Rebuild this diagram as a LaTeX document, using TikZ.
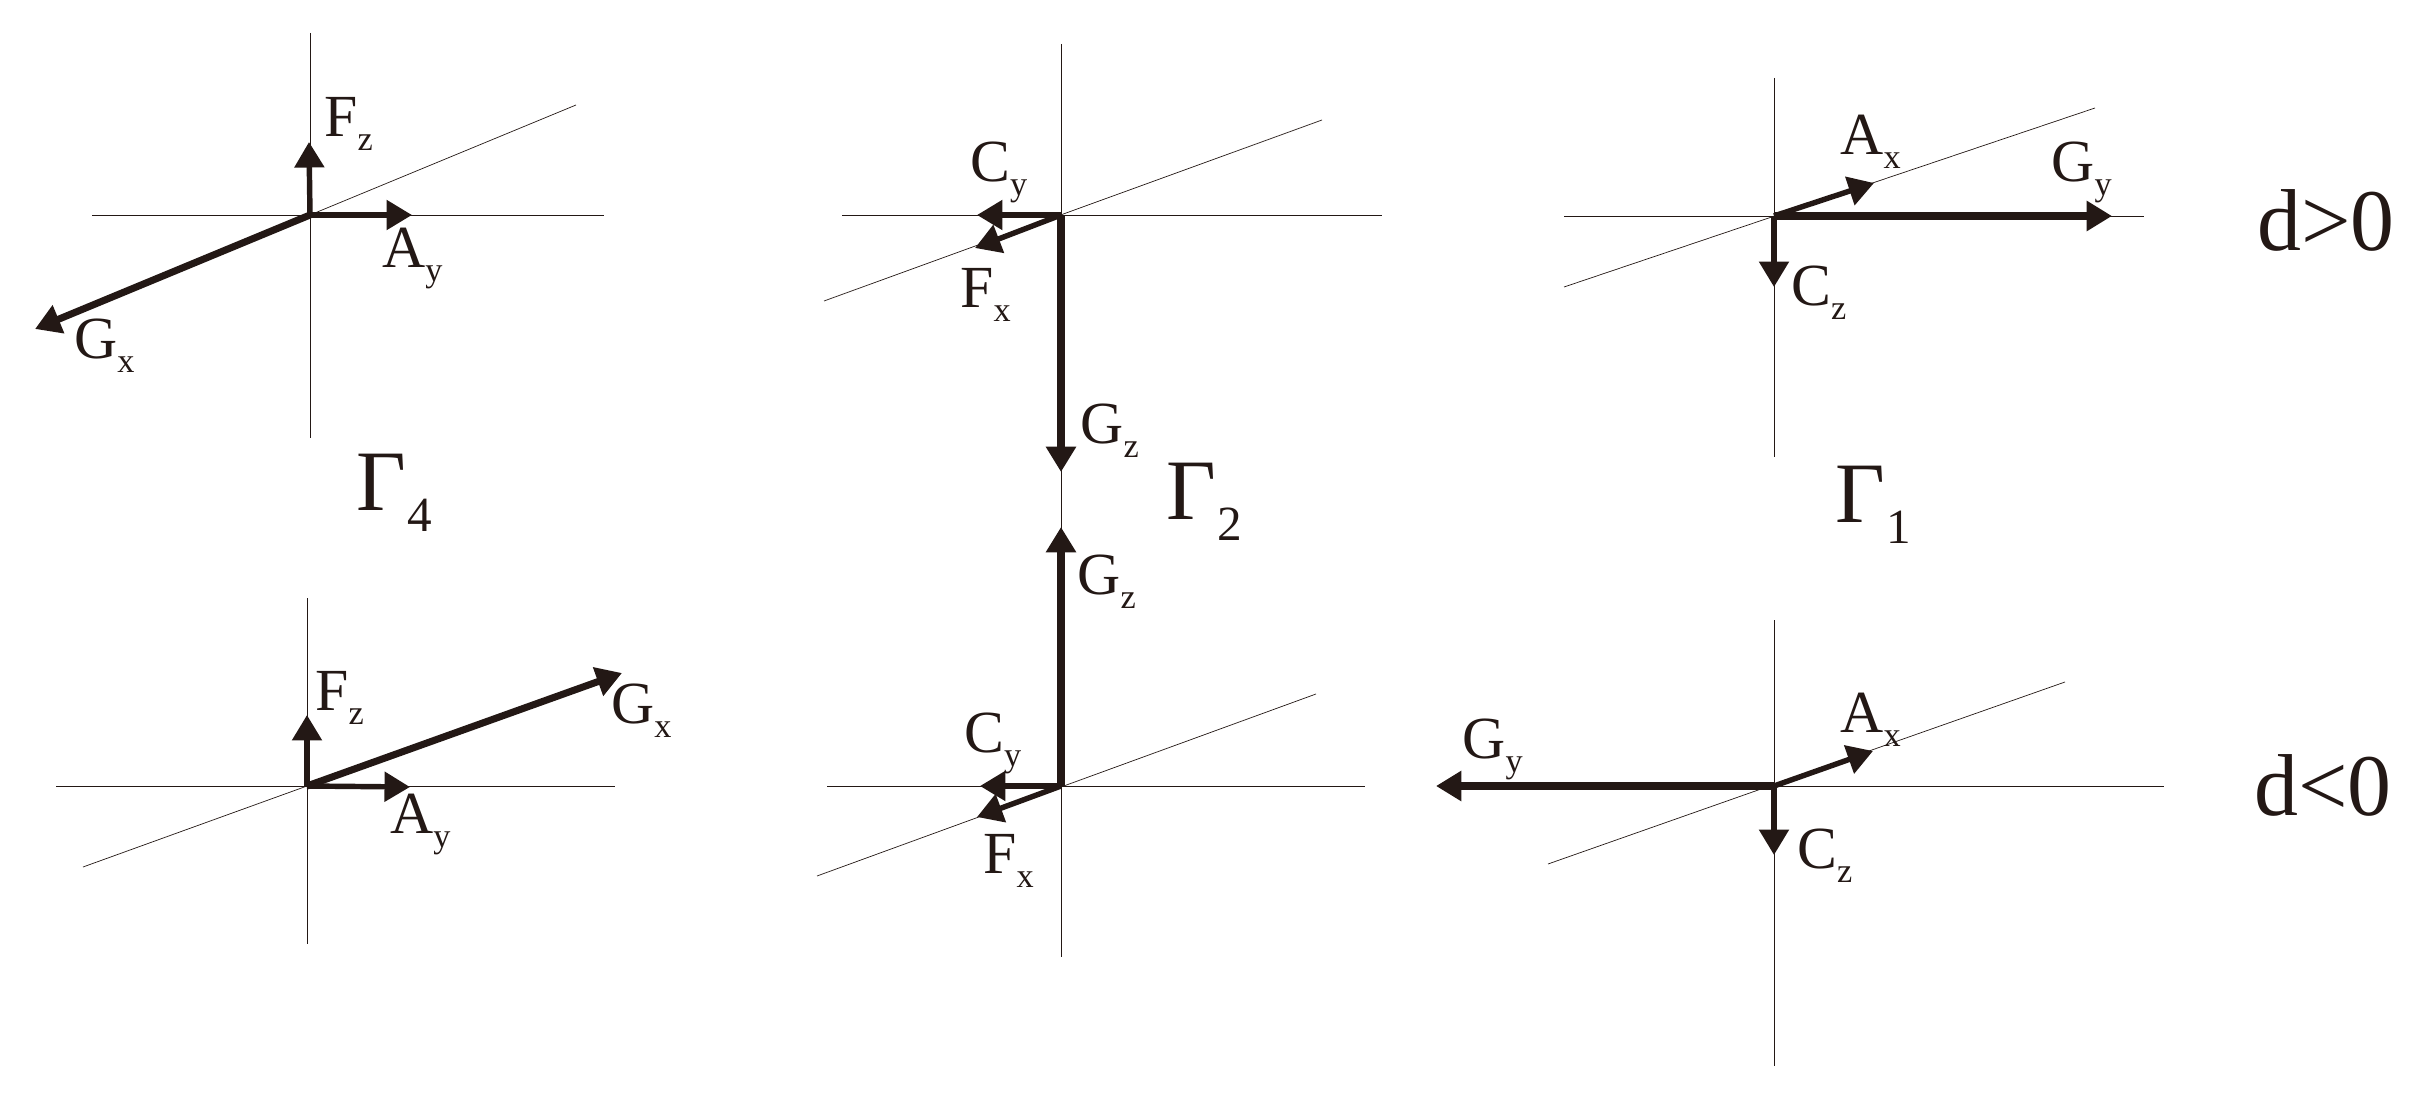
\documentclass[tikz,border=0pt]{standalone}
\usepackage{fontspec}
\setmainfont{Liberation Serif}
\usetikzlibrary{arrows.meta}
\definecolor{inkblack}{HTML}{231815}
\newcommand{\vlab}[2]{\fontsize{34}{34}\selectfont #1\raisebox{-8.5pt}{\fontsize{19.5}{19}\selectfont #2}}
\newcommand{\glab}[1]{\fontsize{49}{49}\selectfont Γ\kern1pt\raisebox{-12pt}{\fontsize{28}{28}\selectfont #1}}
\begin{document}
\begin{tikzpicture}[x=0.02cm,y=-0.02cm]\tikzstyle{every node} = [inner sep=0pt,anchor=base west,text=inkblack]
      \tikzstyle{axisline} = [draw=inkblack,line width=0.5pt]
      \tikzstyle{slantline} = [draw=inkblack,line width=0.4pt]
      \tikzstyle{vec} = [draw=inkblack,line width=3.1pt,-{Triangle[length=14.5pt,width=16.5pt]},fill=inkblack]
      \tikzstyle{longvec} = [vec,line width=4pt]
      \tikzstyle{biglab} = [font=\fontsize{50}{50}\selectfont]
      \useasboundingbox (0,0) rectangle (2415,1095);

      \coordinate (o4t) at (310,215);
      \coordinate (o4tW) at (92,215);
      \coordinate (o4tE) at (604,215);
      \coordinate (o4tN) at (310,33);
      \coordinate (o4tS) at (310,438);
      \coordinate (o4tR) at (576,105);
      \coordinate (Fz4tip) at (309,142);
      \coordinate (Ay4tip) at (412,215);
      \coordinate (Gx4tip) at (35,329);
      \draw[axisline] (o4tW) -- (o4tE);
      \draw[axisline] (o4tN) -- (o4tS);
      \draw[slantline] (o4t) -- (o4tR);
      \draw[vec] (o4t) -- (Fz4tip);
      \draw[vec] (o4t) -- (Ay4tip);
      \draw[longvec] (o4t) -- (Gx4tip);
      \node (Fz4t) at (324,136) {\vlab{F}{z}};
      \node (Ay4t) at (382,267) {\vlab{A}{y}};
      \node (Gx4t) at (74,358) {\vlab{G}{x}};
      \node (gam4) at (356,510) {\glab{4}};

      \coordinate (o2t) at (1061,215);
      \coordinate (o2tW) at (842,215);
      \coordinate (o2tE) at (1382,215);
      \coordinate (o2tN) at (1061,44);
      \coordinate (o2tS) at (1061,527);
      \coordinate (o2tL) at (824,301);
      \coordinate (o2tR) at (1322,120);
      \coordinate (Cy2tip) at (977,215);
      \coordinate (Fx2tip) at (975,248);
      \coordinate (Gz2tip) at (1061,472);
      \draw[axisline] (o2tW) -- (o2tE);
      \draw[axisline] (o2tN) -- (o2tS);
      \draw[slantline] (o2tL) -- (o2tR);
      \draw[vec] (o2t) -- (Cy2tip);
      \draw[vec] (o2t) -- (Fx2tip);
      \draw[longvec] (o2t) -- (Gz2tip);
      \node (Cy2t) at (970,181) {\vlab{C}{y}};
      \node (Fx2t) at (960,307) {\vlab{F}{x}};
      \node (Gz2t) at (1080,443) {\vlab{G}{z}};
      \node (gam2) at (1166,519) {\glab{2}};

      \coordinate (o1t) at (1774,216);
      \coordinate (o1tW) at (1564,216);
      \coordinate (o1tE) at (2144,216);
      \coordinate (o1tN) at (1774,78);
      \coordinate (o1tS) at (1774,457);
      \coordinate (o1tL) at (1564,287);
      \coordinate (o1tR) at (2095,108);
      \coordinate (Ax1tip) at (1874,183);
      \coordinate (Gy1tip) at (2112,216);
      \coordinate (Cz1tip) at (1774,287);
      \draw[axisline] (o1tW) -- (o1tE);
      \draw[axisline] (o1tN) -- (o1tS);
      \draw[slantline] (o1tL) -- (o1tR);
      \draw[vec] (o1t) -- (Ax1tip);
      \draw[longvec] (o1t) -- (Gy1tip);
      \draw[vec] (o1t) -- (Cz1tip);
      \node (Ax1t) at (1840,154) {\vlab{A}{x}};
      \node (Gy1t) at (2051,181) {\vlab{G}{y}};
      \node (Cz1t) at (1791,305) {\vlab{C}{z}};
      \node (gam1) at (1835,522) {\glab{1}};
      \node[biglab] (dpos) at (2257,250) {d>0};

      \coordinate (o4b) at (307,786);
      \coordinate (o4bW) at (56,786);
      \coordinate (o4bE) at (615,786);
      \coordinate (o4bN) at (307,598);
      \coordinate (o4bS) at (307,944);
      \coordinate (o4bL) at (83,867);
      \coordinate (Fz4btip) at (307,715);
      \coordinate (Ay4btip) at (410,787);
      \coordinate (Gx4btip) at (622,673);
      \draw[axisline] (o4bW) -- (o4bE);
      \draw[axisline] (o4bN) -- (o4bS);
      \draw[slantline] (o4b) -- (o4bL);
      \draw[vec] (o4b) -- (Fz4btip);
      \draw[vec] (o4b) -- (Ay4btip);
      \draw[longvec] (o4b) -- (Gx4btip);
      \node (Fz4b) at (315,710) {\vlab{F}{z}};
      \node (Ay4b) at (390,833) {\vlab{A}{y}};
      \node (Gx4b) at (611,723) {\vlab{G}{x}};

      \coordinate (o2b) at (1061,786);
      \coordinate (o2bW) at (827,786);
      \coordinate (o2bE) at (1365,786);
      \coordinate (o2bN) at (1061,472);
      \coordinate (o2bS) at (1061,957);
      \coordinate (o2bL) at (817,876);
      \coordinate (o2bR) at (1316,694);
      \coordinate (Cy2btip) at (980,786);
      \coordinate (Fx2btip) at (977,817);
      \coordinate (Gz2btip) at (1061,527);
      \draw[axisline] (o2bW) -- (o2bE);
      \draw[axisline] (o2bN) -- (o2bS);
      \draw[slantline] (o2bL) -- (o2bR);
      \draw[vec] (o2b) -- (Cy2btip);
      \draw[vec] (o2b) -- (Fx2btip);
      \draw[longvec] (o2b) -- (Gz2btip);
      \node (Cy2b) at (964,752) {\vlab{C}{y}};
      \node (Fx2b) at (983,873) {\vlab{F}{x}};
      \node (Gz2b) at (1077,594) {\vlab{G}{z}};

      \coordinate (o1b) at (1774,786);
      \coordinate (o1bE) at (2164,786);
      \coordinate (o1bN) at (1774,620);
      \coordinate (o1bS) at (1774,1066);
      \coordinate (o1bL) at (1548,864);
      \coordinate (o1bR) at (2065,682);
      \coordinate (Ax1btip) at (1873,751);
      \coordinate (Gy1btip) at (1436,786);
      \coordinate (Cz1btip) at (1774,855);
      \draw[axisline] (o1b) -- (o1bE);
      \draw[axisline] (o1bN) -- (o1bS);
      \draw[slantline] (o1bL) -- (o1bR);
      \draw[vec] (o1b) -- (Ax1btip);
      \draw[longvec] (o1b) -- (Gy1btip);
      \draw[vec] (o1b) -- (Cz1btip);
      \node (Ax1b) at (1840,732) {\vlab{A}{x}};
      \node (Gy1b) at (1462,758) {\vlab{G}{y}};
      \node (Cz1b) at (1797,868) {\vlab{C}{z}};
      \node[biglab] (dneg) at (2254,815) {d<0};
    \end{tikzpicture}
\end{document}
